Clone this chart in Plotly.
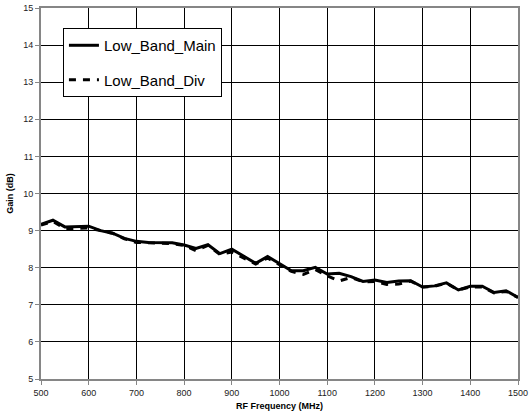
import plotly.graph_objects as go

# RF frequency sweep (MHz) and measured gain (dB) for the two low-band paths
freq_mhz = [500, 525, 550, 575, 600, 625, 650, 675, 700, 725, 750, 775, 800, 825, 850,
            875, 900, 925, 950, 975, 1000, 1025, 1050, 1075, 1100, 1125, 1150, 1175,
            1200, 1225, 1250, 1275, 1300, 1325, 1350, 1375, 1400, 1425, 1450, 1475, 1500]

low_band_main = [9.17, 9.28, 9.10, 9.10, 9.12, 9.00, 8.93, 8.79, 8.71, 8.68, 8.67, 8.67,
                 8.61, 8.52, 8.62, 8.38, 8.50, 8.30, 8.12, 8.30, 8.10, 7.92, 7.92, 8.01,
                 7.83, 7.85, 7.76, 7.63, 7.67, 7.60, 7.64, 7.65, 7.48, 7.51, 7.59, 7.40,
                 7.50, 7.50, 7.33, 7.38, 7.20]

low_band_div = [9.15, 9.25, 9.05, 9.05, 9.07, 9.00, 8.93, 8.78, 8.68, 8.67, 8.66, 8.65,
                8.60, 8.46, 8.60, 8.36, 8.42, 8.25, 8.10, 8.26, 8.07, 7.90, 7.82, 7.95,
                7.78, 7.64, 7.74, 7.62, 7.63, 7.55, 7.56, 7.64, 7.48, 7.50, 7.58, 7.40,
                7.48, 7.48, 7.32, 7.36, 7.20]

x_ticks = list(range(500, 1501, 100))
y_ticks = list(range(5, 16))

fig = go.Figure()
fig.add_trace(go.Scatter(
    x=freq_mhz, y=low_band_main, name="Low_Band_Main", mode="lines",
    line=dict(color="black", width=3), legendgroup="a",
))
fig.add_trace(go.Scatter(
    x=freq_mhz, y=low_band_div, name="Low_Band_Div", mode="lines",
    line=dict(color="black", width=3, dash="7px,7px"), legendgroup="b",
))

axis_common = dict(
    showgrid=True, gridcolor="#000000", gridwidth=1,
    showline=True, linecolor="#868686", linewidth=2, mirror=True,
    ticks="outside", ticklen=4, tickcolor="#868686",
    zeroline=False, automargin=False,
    tickfont=dict(family="Liberation Sans, Arial", size=9, color="#222"),
)

fig.update_xaxes(
    range=[500, 1500], tickvals=x_ticks,
    title=dict(text="<b>RF Frequency (MHz)</b>", standoff=6,
               font=dict(family="Liberation Sans, Arial", size=9, color="#000")),
    **axis_common,
)
fig.update_yaxes(
    range=[5, 15], tickvals=y_ticks,
    title=dict(text="<b>Gain (dB)</b>", standoff=8,
               font=dict(family="Liberation Sans, Arial", size=9, color="#000")),
    **axis_common,
)

fig.update_layout(
    width=529, height=420,
    margin=dict(l=41, r=11, t=8, b=41),
    paper_bgcolor="white", plot_bgcolor="white",
    showlegend=True,
    legend=dict(
        x=0.046, y=0.946, xanchor="left", yanchor="top",
        bgcolor="white", bordercolor="#000", borderwidth=1,
        font=dict(family="Liberation Sans, Arial", size=15, color="#000"),
        traceorder="grouped", tracegroupgap=12, itemwidth=30,
    ),
)

fig.write_html("out.html")
